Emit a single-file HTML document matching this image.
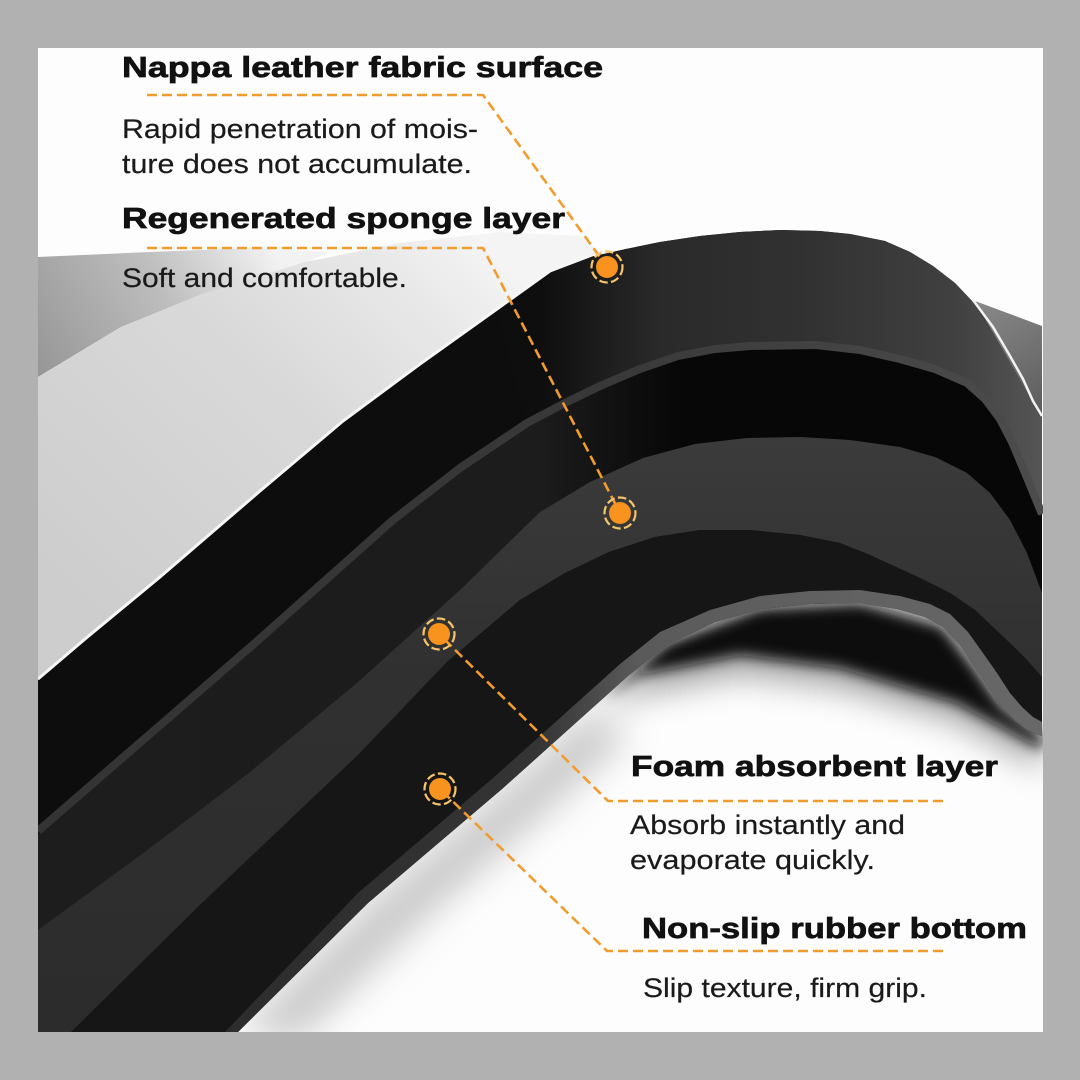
<!DOCTYPE html>
<html><head><meta charset="utf-8"><style>
html,body{margin:0;padding:0;background:#b1b1b1;}
svg{display:block;}
text{font-family:"Liberation Sans",Arial,sans-serif;}
.h{font-weight:bold;font-size:29px;fill:#111;stroke:#111;stroke-width:0.7;}
.b{font-size:26.5px;fill:#1a1a1a;stroke:#1a1a1a;stroke-width:0.2;}
.dl{fill:none;stroke:#f29b2f;stroke-width:2.6;stroke-dasharray:10 5;}
.ring{fill:none;stroke:#f6c46a;stroke-width:2.2;stroke-dasharray:8.5 3.3;}
.dot{fill:#f7931e;}
</style></head><body>
<svg width="1080" height="1080" viewBox="0 0 1080 1080" xmlns="http://www.w3.org/2000/svg">
<defs>
<clipPath id="clip"><rect x="38" y="48" width="1005" height="984"/></clipPath>
<linearGradient id="gSh" gradientUnits="userSpaceOnUse" x1="40" y1="372" x2="270" y2="245">
<stop offset="0" stop-color="#979797"/><stop offset="0.55" stop-color="#bdbdbd"/><stop offset="1" stop-color="#f2f2f2"/></linearGradient>
<linearGradient id="gF" gradientUnits="userSpaceOnUse" x1="100" y1="620" x2="470" y2="230">
<stop offset="0" stop-color="#cdcdcd"/><stop offset="0.55" stop-color="#d9d9d9"/><stop offset="0.85" stop-color="#e9e9e9"/><stop offset="1" stop-color="#f4f4f4"/></linearGradient>
<linearGradient id="gU" gradientUnits="userSpaceOnUse" x1="540" y1="0" x2="1042" y2="0">
<stop offset="0" stop-color="#0e0e0e"/><stop offset="0.24" stop-color="#2a2a2a"/><stop offset="0.52" stop-color="#313131"/><stop offset="0.82" stop-color="#404040"/><stop offset="1" stop-color="#555"/></linearGradient>
<linearGradient id="gM" gradientUnits="userSpaceOnUse" x1="38" y1="0" x2="1042" y2="0">
<stop offset="0" stop-color="#1d1d1d"/><stop offset="0.5" stop-color="#1c1c1c"/><stop offset="0.64" stop-color="#070707"/><stop offset="1" stop-color="#070707"/></linearGradient>
<linearGradient id="gP" gradientUnits="userSpaceOnUse" x1="0" y1="440" x2="0" y2="1032">
<stop offset="0" stop-color="#3b3b3b"/><stop offset="0.4" stop-color="#303030"/><stop offset="1" stop-color="#2c2c2c"/></linearGradient>
<linearGradient id="gR" gradientUnits="userSpaceOnUse" x1="200" y1="0" x2="1042" y2="0">
<stop offset="0" stop-color="#2c2c2c"/><stop offset="0.4" stop-color="#343434"/><stop offset="0.52" stop-color="#5a5a5a"/><stop offset="1" stop-color="#686868"/></linearGradient>
<linearGradient id="gG" gradientUnits="userSpaceOnUse" x1="38" y1="0" x2="1042" y2="0">
<stop offset="0" stop-color="#343434"/><stop offset="0.55" stop-color="#383838"/><stop offset="1" stop-color="#4c4c4c"/></linearGradient>
<linearGradient id="gRP" gradientUnits="userSpaceOnUse" x1="975" y1="300" x2="1042" y2="420">
<stop offset="0" stop-color="#8a8a8a"/><stop offset="1" stop-color="#5a5a5a"/></linearGradient>
<filter id="blur" x="-20%" y="-30%" width="140%" height="160%"><feGaussianBlur stdDeviation="7"/></filter>
<filter id="blur3" x="-20%" y="-30%" width="140%" height="160%"><feGaussianBlur stdDeviation="16"/></filter>
<filter id="blur2" x="-20%" y="-20%" width="140%" height="140%"><feGaussianBlur stdDeviation="18"/></filter>
</defs>

<rect x="0" y="0" width="1080" height="1080" fill="#b1b1b1"/>
<rect x="38" y="48" width="1005" height="984" fill="#fdfdfd"/>

<g clip-path="url(#clip)">
<!-- shadows under arch -->
<polygon filter="url(#blur3)" fill="#000" fill-opacity="0.35" points="600,705 667,645 760,610 860,605 942,628 973,668 1001,708 1042,738 1042,770 957,722 840,688 740,675 640,695"/>
<polygon filter="url(#blur)" fill="#0c0c0c" points="600,700 667,643 760,608 860,603 942,626 973,666 1001,706 1042,736 1042,750 957,703 840,668 740,655 640,675"/>
<polygon filter="url(#blur2)" fill="#000" fill-opacity="0.2" points="238,1032 368,903 502,789 589,711 630,735 555,805 430,915 300,1040"/>

<!-- gray surface behind fabric -->
<polygon fill="url(#gSh)" points="38,257 150,252 250,248 330,252 305,263 205,293 121,327 38,377"/>
<!-- fabric -->
<polygon fill="url(#gF)" points="38,377 121,327 205,293 305,262 400,243 500,232 580,236 600,252 590,257 550,272 497,310 420,365 343,422 260,492 160,578 85,640 38,680"/>

<!-- dark base -->
<polygon fill="#0d0d0d" points="38,680 85,640 160,578 260,492 343,422 420,365 497,310 550,272 590,257 626,249 660,242 700,236 740,232 781,230 820,231 850,234 885,241 910,252 933,266 955,283 973,302 993,328 1010,357 1023,380 1033,402 1042,418 1042,736 1027,730 1015,721 1001,706 988,686 974,666 960,645 943,627 925,617 897,609 860,603 810,604 762,609 715,622 667,645 628,676 589,711 502,789 368,903 238,1032 38,1032"/>

<!-- upper arch band -->
<polygon fill="url(#gU)" points="497,310 550,272 590,257 626,249 660,242 700,236 740,232 781,230 820,231 850,234 885,241 910,252 933,266 955,283 973,302 993,328 1010,357 1023,380 1033,402 1042,418 1042,513 1023,467 1012,442 1000,418 985,398 967,382 935,368 900,358 860,349 816,344 750,345 715,348 678,355 640,368 600,385 565,402 527,422"/>

<!-- mottled band -->
<polygon fill="url(#gM)" points="38,835 150,738 255,647 393,524 460,472 527,427 565,407 600,390 640,373 678,360 715,353 750,350 816,349 860,354 900,363 935,373 967,387 985,403 1000,423 1012,446 1023,472 1042,518 1042,593 1027,553 1010,520 990,493 967,473 935,457 900,447 850,440 800,437 747,438 695,444 643,458 590,482 540,512 460,590 358,682 250,772 150,848 38,930"/>

<!-- sponge / lighter stripe -->
<polygon fill="url(#gP)" points="38,930 150,848 250,772 358,682 460,590 540,512 590,482 643,458 695,444 747,438 800,437 850,440 900,447 935,457 967,473 990,493 1010,520 1027,553 1042,593 1042,677 1027,660 1012,645 993,627 975,610 950,593 920,578 870,555 840,543 800,535 750,530 700,530 655,537 609,552 565,573 520,600 447,662 358,755 200,905 71,1032 38,1032"/>

<!-- crosshatch rubber band -->
<polygon fill="#161616" points="71,1032 200,905 358,755 447,662 520,600 565,573 609,552 655,537 700,530 750,530 800,535 840,543 870,555 920,578 950,593 975,610 993,627 1012,645 1027,660 1042,677 1042,722 1033,717 1022,707 1010,693 997,673 983,653 968,632 950,614 930,604 900,596 860,590 810,591 760,596 710,610 660,632 620,664 580,700 493,778 358,893 225,1032"/>

<!-- gray thin line G -->
<polyline fill="none" stroke="url(#gG)" stroke-width="8" stroke-linejoin="round" points="38,831 150,734 255,643 393,520 460,468 527,423 565,403 600,386 640,369 678,356 715,349 750,346 816,345 860,350 900,359 935,369 967,383 985,399 1000,419 1012,442 1023,468 1042,514"/>

<!-- rim -->
<polygon fill="url(#gR)" points="225,1032 358,893 493,778 580,700 620,664 660,632 710,610 760,596 810,591 860,590 900,596 930,604 950,614 968,632 983,653 997,673 1010,693 1022,707 1033,717 1042,722 1042,736 1027,730 1015,721 1001,706 988,686 974,666 960,645 943,627 925,617 897,609 860,603 810,604 762,609 715,622 667,645 628,676 589,711 502,789 368,903 238,1032"/>

<!-- right background piece -->
<polygon fill="url(#gRP)" points="975,301 1042,326 1042,418"/>
<polyline fill="none" stroke="#f2f2f2" stroke-width="2.5" points="973,300 993,327 1010,356 1023,379 1033,401 1042,416"/>

<!-- fabric highlight edge -->
<polyline fill="none" stroke="#f6f6f6" stroke-width="3" points="38,679 85,639 160,577 260,491 343,421 420,364 497,309 550,271 592,255"/>
</g>

<!-- connectors -->
<polyline class="dl" points="147,95 483,95 607,267"/>
<polyline class="dl" points="147,248 483,248 620,513"/>
<polyline class="dl" points="943,801 608,801 439,634"/>
<polyline class="dl" points="943,951 607,951 440,789"/>

<!-- dots -->
<circle class="dot" cx="607" cy="267" r="11"/><circle class="ring" cx="607" cy="267" r="15.5"/>
<circle class="dot" cx="620" cy="513" r="11"/><circle class="ring" cx="620" cy="513" r="15.5"/>
<circle class="dot" cx="439" cy="634" r="11"/><circle class="ring" cx="439" cy="634" r="15.5"/>
<circle class="dot" cx="440" cy="789" r="11"/><circle class="ring" cx="440" cy="789" r="15.5"/>

<!-- text -->
<text class="h" x="122" y="77" textLength="481" lengthAdjust="spacingAndGlyphs">Nappa leather fabric surface</text>
<text class="b" x="122" y="138" textLength="356" lengthAdjust="spacingAndGlyphs">Rapid penetration of mois-</text>
<text class="b" x="122" y="173" textLength="350" lengthAdjust="spacingAndGlyphs">ture does not accumulate.</text>
<text class="h" x="122" y="228" textLength="443" lengthAdjust="spacingAndGlyphs">Regenerated sponge layer</text>
<text class="b" x="122" y="287" textLength="285" lengthAdjust="spacingAndGlyphs">Soft and comfortable.</text>

<text class="h" x="631" y="776" textLength="367" lengthAdjust="spacingAndGlyphs">Foam absorbent layer</text>
<text class="b" x="630" y="834" textLength="275" lengthAdjust="spacingAndGlyphs">Absorb instantly and</text>
<text class="b" x="630" y="869" textLength="245" lengthAdjust="spacingAndGlyphs">evaporate quickly.</text>
<text class="h" x="642" y="938" textLength="385" lengthAdjust="spacingAndGlyphs">Non-slip rubber bottom</text>
<text class="b" x="643" y="997" textLength="284" lengthAdjust="spacingAndGlyphs">Slip texture, firm grip.</text>
</svg>
</body></html>
